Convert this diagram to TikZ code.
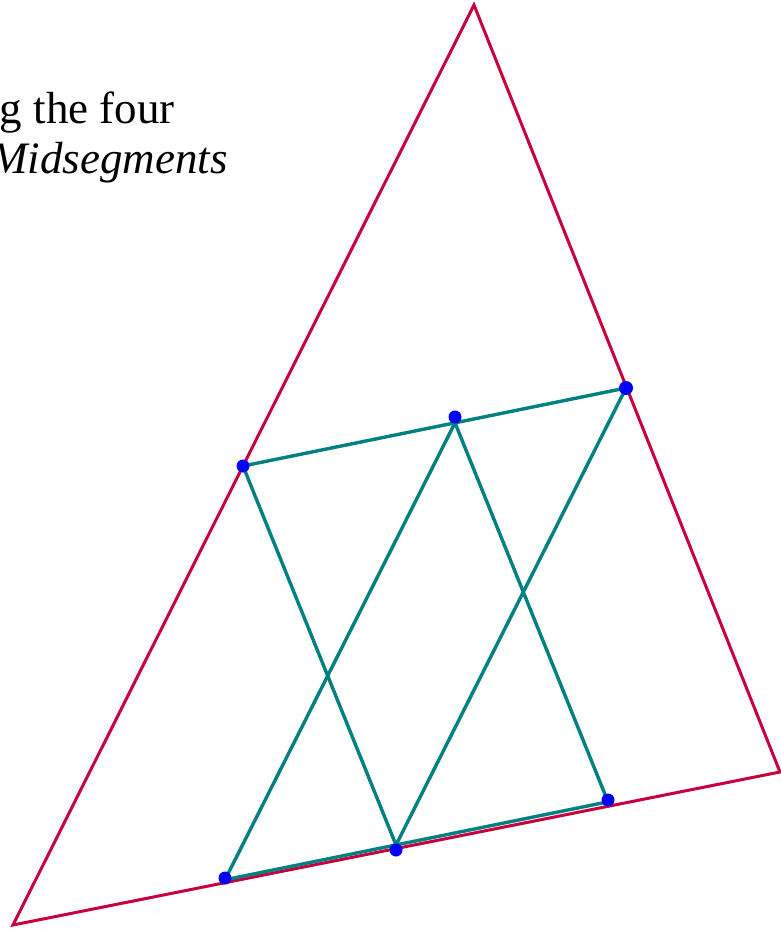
\documentclass[tikz,border=0pt]{standalone}
\usepackage{fontspec}
\setmainfont{Liberation Serif}
\definecolor{tri}{HTML}{C8003C}
\definecolor{mid}{HTML}{008080}
\definecolor{dot}{HTML}{0000FF}
\begin{document}
\begin{tikzpicture}[x=1pt,y=-1pt,
  triline/.style={draw=tri,line width=3pt,line join=miter},
  midline/.style={draw=mid,line width=3.4pt,line cap=round},
  pt/.style={circle,fill=dot,inner sep=0pt,minimum size=13pt},
  lbl/.style={inner sep=0pt,anchor=base east,font=\fontsize{45}{54}\selectfont}]
\useasboundingbox (0,0) rectangle (780,930);
% triangle vertices
\coordinate (A) at (474,5);
\coordinate (B) at (780,772);
\coordinate (C) at (13,925);
\draw[triline] (A) -- (B) -- (C) -- cycle;
% teal vertices
\coordinate (T1) at (243,466);
\coordinate (T2) at (626,388);
\coordinate (T3) at (455,422.8);
\coordinate (T5) at (396,845);
\coordinate (T6) at (608,801.8);
\coordinate (T4) at (225,879.8);
\draw[midline] (T1) -- (T2);
\draw[midline] (T1) -- (T5);
\draw[midline] (T2) -- (T5);
\draw[midline] (T3) -- (T4);
\draw[midline] (T3) -- (T6);
\draw[midline] (T4) -- (T6);
% points
\node[pt] (D1) at (243,466) {};
\node[pt,minimum size=14pt] (D2) at (626,388) {};
\node[pt] (D3) at (455,417) {};
\node[pt] (D4) at (225,878) {};
\node[pt] (D5) at (396,850) {};
\node[pt] (D6) at (608,800) {};
% text
\node[lbl] (L1) at (175,123) {g the four};
\node[lbl] (L2) at (228,173) {\itshape Midsegments};
\end{tikzpicture}
\end{document}
